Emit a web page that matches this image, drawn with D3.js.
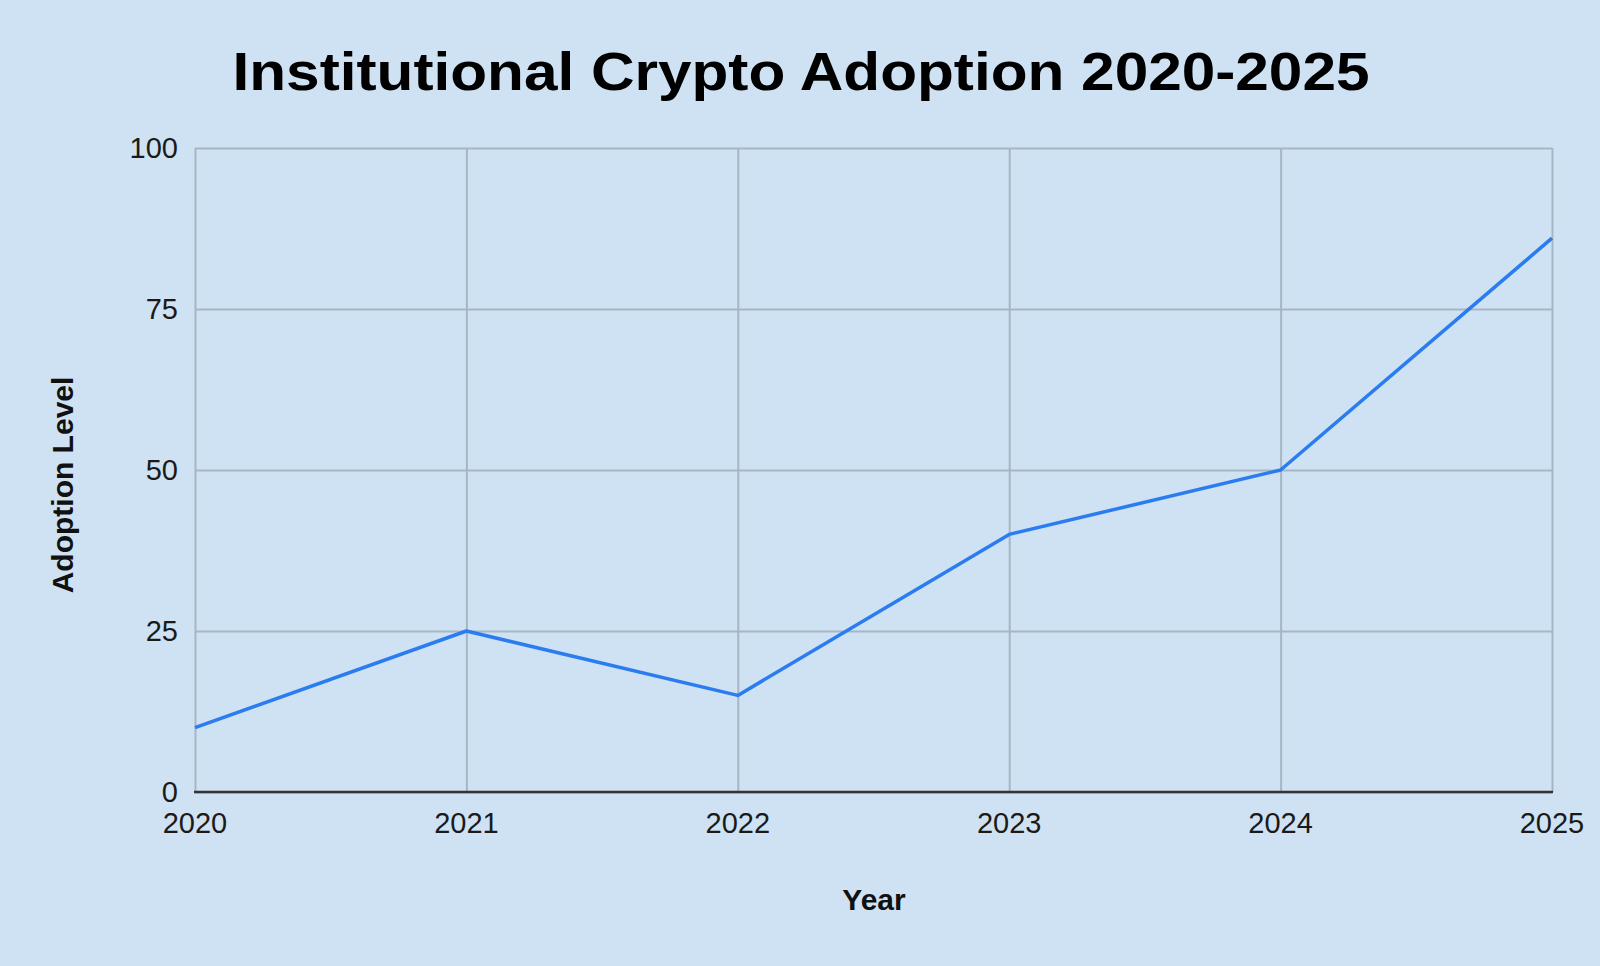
<!DOCTYPE html>
<html lang="en">
<head>
    <meta charset="utf-8">
    <title>Institutional Crypto Adoption 2020-2025</title>
    <script src="https://cdn.jsdelivr.net/npm/d3@7"></script>
    <style>
        html, body { margin: 0; padding: 0; background: #cfe2f3; }
        svg { display: block; font-family: "Liberation Sans", Arial, sans-serif; }
        .grid line { stroke: #a7b6c5; stroke-width: 2; }
        .grid .domain { display: none; }
    </style>
</head>
<body>
<script>
    var years = [2020, 2021, 2022, 2023, 2024, 2025];
    var adoption = [10, 25, 15, 40, 50, 86];
    var yTicks = [0, 25, 50, 75, 100];

    var w = 1600, h = 966;
    var margin = {top: 148, right: 48, bottom: 174, left: 195};

    var svg = d3.select("body").append("svg")
        .attr("width", w)
        .attr("height", h);

    svg.append("rect")
        .attr("width", w).attr("height", h)
        .attr("fill", "#cfe2f3");

    var x = d3.scaleLinear()
        .domain([years[0], years[years.length - 1]])
        .range([margin.left, w - margin.right]);

    var y = d3.scaleLinear()
        .domain([0, 100])
        .range([h - margin.bottom, margin.top]);

    // gridlines
    svg.append("g")
        .attr("class", "grid")
        .attr("transform", "translate(0," + (h - margin.bottom) + ")")
        .call(d3.axisBottom(x).tickValues(years).tickSize(-(h - margin.top - margin.bottom)).tickFormat(""));

    svg.append("g")
        .attr("class", "grid")
        .attr("transform", "translate(" + margin.left + ",0)")
        .call(d3.axisLeft(y).tickValues(yTicks).tickSize(-(w - margin.left - margin.right)).tickFormat(""));

    // baseline
    svg.append("line")
        .attr("x1", x(years[0]) - 1).attr("x2", x(years[years.length - 1]) + 1)
        .attr("y1", y(0)).attr("y2", y(0))
        .attr("stroke", "#333").attr("stroke-width", 2.5);

    // tick labels
    svg.selectAll(".ylab")
        .data(yTicks)
        .enter().append("text")
        .attr("class", "ylab")
        .attr("x", margin.left - 17)
        .attr("y", function (d) { return y(d); })
        .attr("dy", "0.35em")
        .attr("text-anchor", "end")
        .attr("font-size", "29px")
        .attr("fill", "#1a1a1a")
        .text(function (d) { return d; });

    svg.selectAll(".xlab")
        .data(years)
        .enter().append("text")
        .attr("class", "xlab")
        .attr("x", function (d) { return x(d); })
        .attr("y", y(0) + 41)
        .attr("text-anchor", "middle")
        .attr("font-size", "29px")
        .attr("fill", "#1a1a1a")
        .text(function (d) { return d; });

    // the line
    var line = d3.line()
        .x(function (d, i) { return x(years[i]); })
        .y(function (d) { return y(d); });

    svg.append("path")
        .datum(adoption)
        .attr("d", line)
        .attr("fill", "none")
        .attr("stroke", "#2a7cf0")
        .attr("stroke-width", 3.5)
        .attr("stroke-linejoin", "round");

    // title and axis titles
    svg.append("text")
        .attr("x", 801)
        .attr("y", 90)
        .attr("text-anchor", "middle")
        .attr("font-size", "54px")
        .attr("font-weight", "bold")
        .attr("textLength", 1137)
        .attr("lengthAdjust", "spacingAndGlyphs")
        .attr("fill", "#000")
        .text("Institutional Crypto Adoption 2020-2025");

    svg.append("text")
        .attr("x", 874)
        .attr("y", 910)
        .attr("text-anchor", "middle")
        .attr("font-size", "30px")
        .attr("font-weight", "bold")
        .attr("fill", "#111")
        .text("Year");

    svg.append("text")
        .attr("transform", "translate(73,485) rotate(-90)")
        .attr("text-anchor", "middle")
        .attr("font-size", "30px")
        .attr("font-weight", "bold")
        .attr("fill", "#111")
        .text("Adoption Level");
</script>
</body>
</html>
